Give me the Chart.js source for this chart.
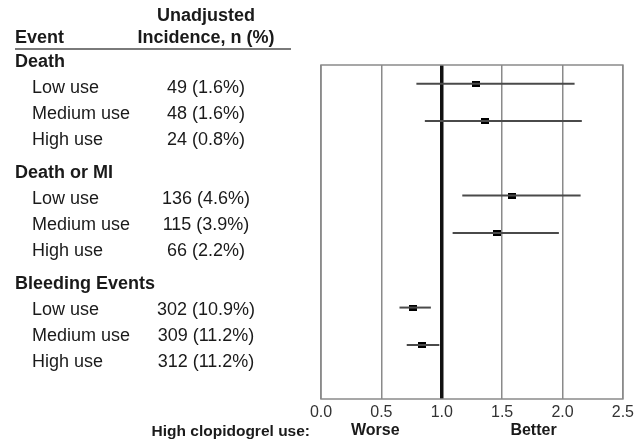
<!DOCTYPE html>
<html>
<head>
<meta charset="utf-8">
<script src="https://cdn.jsdelivr.net/npm/chart.js@4/dist/chart.umd.min.js"></script>
<style>
  html, body { margin: 0; padding: 0; background: #fff; }
  #wrap { position: relative; width: 638px; height: 441px; overflow: hidden; font-family: "Liberation Sans", Arial, sans-serif; color: #1a1a1a; }
  #c { position: absolute; left: 0; top: 0; }
  .t { position: absolute; white-space: nowrap; line-height: 22px; height: 22px; }
  .b { font-weight: bold; }
  .ctr { transform: translateX(-50%); }
  .rt { transform: translateX(-100%); }
</style>
</head>
<body>
<div id="wrap">
  <canvas id="c" width="638" height="441"></canvas>
</div>
<script>
// ---- data ----
const groups = ['Death', 'Death or MI', 'Bleeding Events'];
const subgroups = ['Low use', 'Medium use', 'High use'];
const incidence = [
  ['49 (1.6%)', '48 (1.6%)', '24 (0.8%)'],
  ['136 (4.6%)', '115 (3.9%)', '66 (2.2%)'],
  ['302 (10.9%)', '309 (11.2%)', '312 (11.2%)']
];
const estimate = [1.28, 1.36, 1.58, 1.46, 0.76, 0.84];
const lower    = [0.79, 0.86, 1.17, 1.09, 0.65, 0.71];
const upper    = [2.10, 2.16, 2.15, 1.97, 0.91, 0.98];
const rowIndex = [0, 1, 3, 4, 6, 7];
const xTicks = [0, 0.5, 1, 1.5, 2, 2.5];
const headerCol1 = 'Event';
const headerCol2a = 'Unadjusted';
const headerCol2b = 'Incidence, n (%)';
const footLabel = 'High clopidogrel use:';
const worseLabel = 'Worse';
const betterLabel = 'Better';

// ---- text table (HTML) ----
const wrap = document.getElementById('wrap');
function addText(txt, x, yc, size, cls) {
  const d = document.createElement('div');
  d.className = 't ' + (cls || '');
  d.textContent = txt;
  d.style.left = x + 'px';
  d.style.top = (yc - 11) + 'px';
  d.style.fontSize = size + 'px';
  wrap.appendChild(d);
  return d;
}
addText(headerCol2a, 206, 15, 18, 'b ctr');
addText(headerCol1, 15, 37, 18, 'b');
addText(headerCol2b, 206, 37, 18, 'b ctr');
const rule = document.createElement('div');
rule.style.cssText = 'position:absolute;left:15px;top:48px;width:276px;height:2px;background:#7a7a7a;';
wrap.appendChild(rule);
groups.forEach((g, gi) => {
  const gy = 61 + gi * 111;
  addText(g, 15, gy, 18, 'b');
  subgroups.forEach((s, si) => {
    const y = gy + 26 * (si + 1);
    addText(s, 32, y, 18, '');
    addText(incidence[gi][si], 206, y, 18, 'ctr');
  });
});
addText(footLabel, 310, 431, 15.5, 'b rt');

// ---- chart ----
const marker = document.createElement('canvas');
marker.width = 8; marker.height = 6;
const mctx = marker.getContext('2d');
mctx.fillStyle = '#000';
mctx.fillRect(0, 0, 8, 6);

const datasets = [];
estimate.forEach((e, i) => {
  datasets.push({
    type: 'line',
    data: [{ x: lower[i], y: rowIndex[i] }, { x: upper[i], y: rowIndex[i] }],
    borderColor: '#4a4a4a',
    borderWidth: 2,
    pointRadius: 0,
    showLine: true,
    fill: false
  });
});
datasets.push({
  type: 'scatter',
  data: estimate.map((e, i) => ({ x: e, y: rowIndex[i] })),
  pointStyle: marker,
  pointRadius: 4,
  backgroundColor: '#000',
  borderColor: '#000'
});

const boxPlugin = {
  id: 'box',
  afterDraw(chart) {
    const a = chart.chartArea, ctx = chart.ctx;
    ctx.save();
    ctx.strokeStyle = '#8a8a8a';
    ctx.lineWidth = 1.5;
    ctx.strokeRect(a.left, a.top, a.right - a.left, a.bottom - a.top);
    ctx.restore();
  }
};
const axisTextPlugin = {
  id: 'axisText',
  afterDraw(chart) {
    const xs = chart.scales.x, ctx = chart.ctx;
    ctx.save();
    ctx.fillStyle = '#1a1a1a';
    ctx.font = 'bold 16px "Liberation Sans", Arial, sans-serif';
    ctx.textAlign = 'center';
    ctx.textBaseline = 'middle';
    ctx.fillText(worseLabel, xs.getPixelForValue(0.45), 431);
    ctx.fillText(betterLabel, xs.getPixelForValue(1.76), 431);
    ctx.restore();
  }
};

new Chart(document.getElementById('c'), {
  type: 'scatter',
  data: { datasets },
  plugins: [boxPlugin, axisTextPlugin],
  options: {
    responsive: false,
    animation: false,
    events: [],
    layout: { padding: { left: 321, right: 15, top: 65, bottom: 0 } },
    plugins: { legend: { display: false }, tooltip: { enabled: false } },
    scales: {
      x: {
        type: 'linear',
        min: 0, max: 2.5,
        afterBuildTicks(scale) { scale.ticks = xTicks.map(v => ({ value: v })); },
        afterFit(scale) { scale.height = 42; },
        border: { display: false },
        grid: {
          drawTicks: false,
          color: ctx => ctx.tick && ctx.tick.value === 1 ? '#111' : '#8a8a8a',
          lineWidth: ctx => ctx.tick && ctx.tick.value === 1 ? 3.5 : 1.5
        },
        ticks: {
          autoSkip: false,
          maxRotation: 0,
          padding: 4,
          color: '#333',
          font: { family: '"Liberation Sans", Arial, sans-serif', size: 16 },
          callback: v => Number(v).toFixed(1)
        }
      },
      y: {
        type: 'linear',
        display: false,
        reverse: true,
        min: -0.5, max: 8.45
      }
    }
  }
});
</script>
</body>
</html>
